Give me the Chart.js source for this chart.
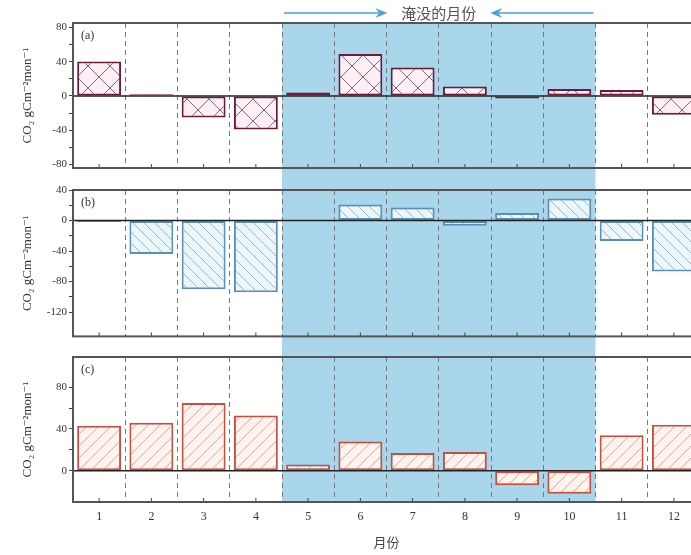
<!DOCTYPE html>
<html>
<head>
<meta charset="utf-8">
<script src="https://cdn.jsdelivr.net/npm/chart.js@4.4.1/dist/chart.umd.min.js"></script>
<style>
  html, body { margin: 0; padding: 0; background: #fff; overflow: hidden; }
  #wrap { position: relative; width: 700px; height: 555px; }
  canvas { position: absolute; left: 0; }
</style>
</head>
<body>
<div id="wrap">
  <canvas id="chartA" width="700" height="178" style="top:0px"></canvas>
  <canvas id="chartB" width="700" height="167" style="top:178px"></canvas>
  <canvas id="chartC" width="700" height="210" style="top:345px"></canvas>
</div>
<script>
// months on the x axis
const months = ["1", "2", "3", "4", "5", "6", "7", "8", "9", "10", "11", "12"];
// CO2 flux per month, gC m-2 mon-1
const fluxA = [40, 2, -25, -39, 4, 49, 33, 11, -3, 8, 7, -22];
const fluxB = [-2, -44, -90, -94, -1, 21, 17, -7, 10, 29, -27, -67];
const fluxC = [43, 46, 65, 53, 6, 28, 17, 18, -14, -22, 34, 44];
// labelled y ticks of each panel
const ticksA = [-80, -40, 0, 40, 80];
const ticksB = [-120, -80, -40, 0, 40];
const ticksC = [0, 40, 80];
// first and last flooded month
const floodMonths = [5, 10];
const floodLabel = "淹没的月份";
const yTitle = "CO\u2082 gCm\u207B\u00B2mon\u207B\u00B9";

const serif = '"Liberation Serif", "DejaVu Serif", serif';
const cjk = '"Noto Sans CJK SC", sans-serif';

function hatch(bg, line, size, dirs) {
  const c = document.createElement("canvas");
  c.width = c.height = size;
  const g = c.getContext("2d");
  g.fillStyle = bg;
  g.fillRect(0, 0, size, size);
  g.strokeStyle = line;
  g.lineWidth = 1;
  dirs.forEach(d => {
    for (let k = -1; k <= 1; k++) {
      g.beginPath();
      if (d === "/") {
        g.moveTo(k * size, size);
        g.lineTo(k * size + size, 0);
      } else {
        g.moveTo(k * size, 0);
        g.lineTo(k * size + size, size);
      }
      g.stroke();
    }
  });
  return g.createPattern(c, "repeat");
}

function withMinor(major) {
  const all = [];
  for (let i = 0; i < major.length; i++) {
    all.push(major[i]);
    if (i < major.length - 1) all.push((major[i] + major[i + 1]) / 2);
  }
  return all;
}

const panelPlugin = {
  id: "panel",
  beforeDraw(chart, args, opts) {
    const { ctx, chartArea, scales: { x } } = chart;
    const half = (x.getPixelForValue(1) - x.getPixelForValue(0)) / 2;
    const x0 = x.getPixelForValue(floodMonths[0] - 1) - half;
    const x1 = x.getPixelForValue(floodMonths[1] - 1) + half;
    const top = opts.shadeFromTop ? 0 : chartArea.top;
    const bottom = opts.shadeToBottom ? chart.height : chartArea.bottom;
    ctx.save();
    ctx.fillStyle = "#aad6ec";
    ctx.fillRect(x0, top, x1 - x0, bottom - top);
    ctx.restore();
  },
  afterDatasetsDraw(chart, args, opts) {
    const { ctx, chartArea, scales: { x, y } } = chart;
    ctx.save();
    // zero line
    const y0 = y.getPixelForValue(0);
    ctx.strokeStyle = "#222";
    ctx.lineWidth = 1.5;
    ctx.beginPath();
    ctx.moveTo(chartArea.left, y0);
    ctx.lineTo(chartArea.right, y0);
    ctx.stroke();
    // small inward ticks on the bottom axis
    ctx.lineWidth = 1;
    ctx.strokeStyle = "#444";
    months.forEach((m, i) => {
      const px = x.getPixelForValue(i);
      ctx.beginPath();
      ctx.moveTo(px, chartArea.bottom);
      ctx.lineTo(px, chartArea.bottom - 4);
      ctx.stroke();
    });
    // frame
    ctx.strokeStyle = "#555";
    ctx.lineWidth = 2;
    ctx.strokeRect(chartArea.left, chartArea.top, chartArea.width, chartArea.height);
    // panel letter
    ctx.fillStyle = "#333";
    ctx.font = "12px " + serif;
    ctx.textBaseline = "middle";
    ctx.fillText(opts.letter, chartArea.left + 8, chartArea.top + 13);

    if (opts.arrows) {
      const half = (x.getPixelForValue(1) - x.getPixelForValue(0)) / 2;
      const x0 = x.getPixelForValue(floodMonths[0] - 1) - half;
      const x1 = x.getPixelForValue(floodMonths[1] - 1) + half;
      const mid = (x0 + x1) / 2;
      const ay = 13;
      ctx.font = "15px " + cjk;
      ctx.textAlign = "center";
      ctx.fillStyle = "#555";
      ctx.fillText(floodLabel, mid, ay);
      const tw = ctx.measureText(floodLabel).width;
      const tipL = mid - tw / 2 - 14;
      const tipR = mid + tw / 2 + 14;
      ctx.strokeStyle = "#4aa3d6";
      ctx.fillStyle = "#4aa3d6";
      ctx.lineWidth = 1.5;
      ctx.beginPath();
      ctx.moveTo(x0 + 2, ay);
      ctx.lineTo(tipL - 6, ay);
      ctx.moveTo(x1 - 2, ay);
      ctx.lineTo(tipR + 6, ay);
      ctx.stroke();
      ctx.beginPath();
      ctx.moveTo(tipL, ay);
      ctx.lineTo(tipL - 12, ay - 5);
      ctx.lineTo(tipL - 8, ay);
      ctx.lineTo(tipL - 12, ay + 5);
      ctx.closePath();
      ctx.moveTo(tipR, ay);
      ctx.lineTo(tipR + 12, ay - 5);
      ctx.lineTo(tipR + 8, ay);
      ctx.lineTo(tipR + 12, ay + 5);
      ctx.closePath();
      ctx.fill();
    }
    ctx.restore();
  }
};

function makePanel(id, values, fill, border, range, majorTicks, panelOpts, showX, padding) {
  return new Chart(document.getElementById(id), {
    type: "bar",
    data: {
      labels: months,
      datasets: [{
        data: values,
        backgroundColor: fill,
        borderColor: border,
        borderWidth: 2,
        borderSkipped: false,
        barPercentage: 0.84,
        categoryPercentage: 1
      }]
    },
    options: {
      responsive: false,
      animation: false,
      layout: { padding: padding },
      plugins: {
        legend: { display: false },
        tooltip: { enabled: false },
        panel: panelOpts
      },
      scales: {
        x: {
          grid: {
            offset: true,
            color: "#777",
            lineWidth: 1,
            drawTicks: false
          },
          border: { display: false, dash: [5, 4] },
          ticks: {
            display: showX,
            padding: 8,
            color: "#333",
            font: { family: serif, size: 12 }
          },
          title: {
            display: showX,
            text: "月份",
            color: "#444",
            font: { family: cjk, size: 13 },
            padding: { top: 0, bottom: 5 }
          },
          afterFit(scale) { scale.height = showX ? 53 : 0; }
        },
        y: {
          min: range[0],
          max: range[1],
          afterBuildTicks(scale) {
            scale.ticks = withMinor(majorTicks).map(v => ({ value: v }));
          },
          afterFit(scale) { scale.width = 73; },
          grid: {
            drawOnChartArea: false,
            drawTicks: true,
            tickLength: 4,
            tickColor: "#444"
          },
          border: { display: false },
          ticks: {
            padding: 2,
            color: "#333",
            font: { family: serif, size: 11 },
            callback: v => (majorTicks.includes(v) ? String(v) : "")
          },
          title: {
            display: true,
            text: yTitle,
            color: "#333",
            font: { family: serif, size: 13 },
            padding: { top: 20, bottom: 0 }
          }
        }
      }
    },
    plugins: [panelPlugin]
  });
}

makePanel("chartA", fluxA,
  hatch("#fdf0f5", "#86667e", 22, ["/", "\\"]), "#6e1a3c",
  [-84, 85], ticksA,
  { letter: "(a)", shadeFromTop: false, shadeToBottom: true, arrows: true },
  false, { top: 23, bottom: 10, left: 0, right: 0 });

makePanel("chartB", fluxB,
  hatch("#ecf7fc", "#9fb5c4", 11, ["\\"]), "#5b90b5",
  [-152, 40], ticksB,
  { letter: "(b)", shadeFromTop: true, shadeToBottom: true, arrows: false },
  false, { top: 12, bottom: 8, left: 0, right: 0 });

makePanel("chartC", fluxC,
  hatch("#fff4f0", "#e2a89c", 12, ["/"]), "#c4503f",
  [-30, 109], ticksC,
  { letter: "(c)", shadeFromTop: true, shadeToBottom: false, arrows: false },
  true, { top: 12, bottom: 0, left: 0, right: 0 });
</script>
</body>
</html>
